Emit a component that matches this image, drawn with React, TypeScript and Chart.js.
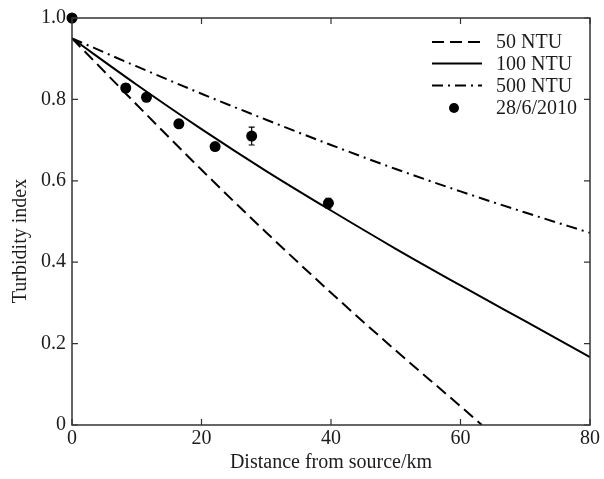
import React, { useEffect, useRef } from "react";
import { Chart, registerables } from "chart.js";

Chart.register(...registerables);

// Model curves (distance km, turbidity index)
const curveKm = [0, 10, 20, 30, 40, 50, 60, 70, 80];
const ntu50Km = [0, 10, 20, 30, 40, 50, 60, 63.3];
const ntu50Index = [0.95, 0.787, 0.627, 0.473, 0.325, 0.183, 0.046, 0];
const ntu100Index = [0.95, 0.836, 0.727, 0.624, 0.527, 0.433, 0.343, 0.255, 0.167];
const ntu500Index = [0.95, 0.881, 0.814, 0.75, 0.688, 0.629, 0.574, 0.522, 0.472];

// Observations 28/6/2010
const obsKm = [0, 8.3, 11.5, 16.5, 22.1, 27.75, 39.6];
const obsIndex = [1.0, 0.828, 0.805, 0.74, 0.684, 0.71, 0.545];
const obsErrY = [0, 0.01, 0.01, 0.008, 0.008, 0.022, 0.012];
const obsErrX = [0, 0.6, 0.6, 0.6, 0.6, 0.3, 0.6];

const xTicks = [0, 20, 40, 60, 80];
const yTicks = [0, 0.2, 0.4, 0.6, 0.8, 1.0];

const legendLabels = ["50 NTU", "100 NTU", "500 NTU", "28/6/2010"];

const FONT_FAMILY = "'Liberation Serif', 'Times New Roman', serif";
const TEXT_COLOR = "#1c1c1c";
const AXIS_COLOR = "#333333";
const DASH = [12, 6];
const DASH_DOT = [11, 5, 2, 5];

const toPts = (xs: number[], ys: number[]) => xs.map((x, i) => ({ x, y: ys[i] }));

const framePlugin = {
  id: "frameTicks",
  afterDraw(chart: any) {
    const { ctx, chartArea } = chart;
    const xs = chart.scales.x;
    const ys = chart.scales.y;
    const { left, right, top, bottom } = chartArea;
    ctx.save();
    ctx.strokeStyle = AXIS_COLOR;
    ctx.lineWidth = 1.5;
    ctx.setLineDash([]);
    ctx.strokeRect(left, top, right - left, bottom - top);
    ctx.lineWidth = 1.2;
    const tl = 6;
    ctx.beginPath();
    xTicks.forEach((v) => {
      const px = xs.getPixelForValue(v);
      ctx.moveTo(px, bottom);
      ctx.lineTo(px, bottom - tl);
      ctx.moveTo(px, top);
      ctx.lineTo(px, top + tl);
    });
    yTicks.forEach((v) => {
      const py = ys.getPixelForValue(v);
      ctx.moveTo(left, py);
      ctx.lineTo(left + tl, py);
      ctx.moveTo(right, py);
      ctx.lineTo(right - tl, py);
    });
    ctx.stroke();

    // y-axis title
    ctx.fillStyle = TEXT_COLOR;
    ctx.font = `20px ${FONT_FAMILY}`;
    ctx.textAlign = "center";
    ctx.textBaseline = "middle";
    ctx.translate(21, 241);
    ctx.rotate(-Math.PI / 2);
    ctx.fillText("Turbidity index", 0, 0);
    ctx.restore();

    // legend
    ctx.save();
    const rows = [42, 63.5, 85.5, 108];
    ctx.strokeStyle = "#000";
    ctx.lineWidth = 2;
    const dashes = [DASH, [], DASH_DOT];
    for (let i = 0; i < 3; i++) {
      ctx.setLineDash(dashes[i]);
      ctx.beginPath();
      ctx.moveTo(432, rows[i]);
      ctx.lineTo(482, rows[i]);
      ctx.stroke();
    }
    ctx.setLineDash([]);
    ctx.fillStyle = "#000";
    ctx.beginPath();
    ctx.arc(454, rows[3], 5, 0, Math.PI * 2);
    ctx.fill();
    ctx.fillStyle = TEXT_COLOR;
    ctx.font = `20px ${FONT_FAMILY}`;
    ctx.textAlign = "left";
    ctx.textBaseline = "middle";
    legendLabels.forEach((t, i) => ctx.fillText(t, 496, rows[i] + 1));
    ctx.restore();
  },
  beforeDatasetDraw(chart: any, args: any) {
    if (args.index !== 0) return;
    const { ctx } = chart;
    const xs = chart.scales.x;
    const ys = chart.scales.y;
    ctx.save();
    ctx.strokeStyle = "#000";
    ctx.lineWidth = 1.2;
    ctx.setLineDash([]);
    ctx.beginPath();
    obsKm.forEach((k, i) => {
      const px = xs.getPixelForValue(k);
      const py = ys.getPixelForValue(obsIndex[i]);
      if (obsErrY[i] > 0) {
        const y1 = ys.getPixelForValue(obsIndex[i] - obsErrY[i]);
        const y2 = ys.getPixelForValue(obsIndex[i] + obsErrY[i]);
        ctx.moveTo(px, y1);
        ctx.lineTo(px, y2);
        ctx.moveTo(px - 3, y1);
        ctx.lineTo(px + 3, y1);
        ctx.moveTo(px - 3, y2);
        ctx.lineTo(px + 3, y2);
      }
      if (obsErrX[i] > 0) {
        const x1 = xs.getPixelForValue(k - obsErrX[i]);
        const x2 = xs.getPixelForValue(k + obsErrX[i]);
        ctx.moveTo(x1, py);
        ctx.lineTo(x2, py);
      }
    });
    ctx.stroke();
    ctx.restore();
  },
};

export default function App() {
  const ref = useRef<HTMLCanvasElement | null>(null);
  useEffect(() => {
    if (!ref.current) return;
    const font = { family: FONT_FAMILY, size: 20 };
    const chart = new Chart(ref.current, {
      type: "scatter",
      data: {
        datasets: [
          {
            label: legendLabels[3],
            data: toPts(obsKm, obsIndex),
            showLine: false,
            pointRadius: 5.5,
            pointBackgroundColor: "#000",
            pointBorderColor: "#000",
            pointBorderWidth: 0,
            clip: false,
          } as any,
          {
            label: legendLabels[0],
            data: toPts(ntu50Km, ntu50Index),
            showLine: true,
            borderColor: "#000",
            borderWidth: 2,
            borderDash: DASH,
            pointRadius: 0,
            cubicInterpolationMode: "monotone",
          },
          {
            label: legendLabels[1],
            data: toPts(curveKm, ntu100Index),
            showLine: true,
            borderColor: "#000",
            borderWidth: 2,
            pointRadius: 0,
            cubicInterpolationMode: "monotone",
          },
          {
            label: legendLabels[2],
            data: toPts(curveKm, ntu500Index),
            showLine: true,
            borderColor: "#000",
            borderWidth: 2,
            borderDash: DASH_DOT,
            pointRadius: 0,
            cubicInterpolationMode: "monotone",
          },
        ],
      },
      options: {
        responsive: false,
        animation: false,
        layout: { padding: { top: 16, right: 14, left: 0, bottom: 0 } },
        plugins: { legend: { display: false }, tooltip: { enabled: false } },
        scales: {
          x: {
            type: "linear",
            min: 0,
            max: 80,
            afterBuildTicks: (s: any) => {
              s.ticks = xTicks.map((v) => ({ value: v }));
            },
            ticks: { font, color: TEXT_COLOR, padding: 2, maxRotation: 0, autoSkip: false },
            grid: { display: false, drawTicks: false },
            border: { display: false },
            title: {
              display: true,
              text: "Distance from source/km",
              font,
              color: TEXT_COLOR,
              padding: { top: 0, bottom: 4 },
            },
            afterFit: (s: any) => {
              s.height = 54;
            },
          },
          y: {
            type: "linear",
            min: 0,
            max: 1,
            afterBuildTicks: (s: any) => {
              s.ticks = yTicks.map((v) => ({ value: v }));
            },
            ticks: {
              font,
              color: TEXT_COLOR,
              padding: 6,
              autoSkip: false,
              callback: (v: any) => (Number(v) === 0 ? "0" : Number(v).toFixed(1)),
            },
            grid: { display: false, drawTicks: false },
            border: { display: false },
            afterFit: (s: any) => {
              s.width = 72;
            },
          },
        },
      },
      plugins: [framePlugin],
    });
    return () => chart.destroy();
  }, []);
  return (
    <div style={{ position: "absolute", left: 0, top: 0, width: 604, height: 479, background: "#fff" }}>
      <canvas ref={ref} width={604} height={479} style={{ display: "block" }} />
    </div>
  );
}
